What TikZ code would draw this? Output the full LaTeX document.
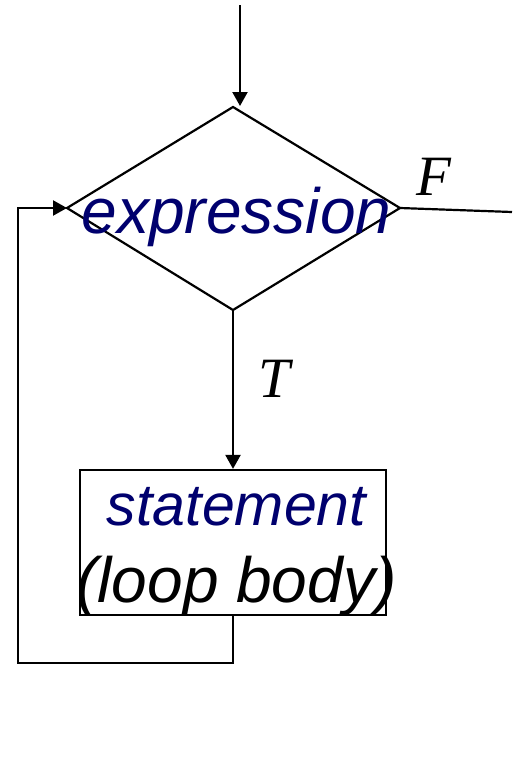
\documentclass[tikz,border=0pt]{standalone}
\usepackage{fontspec}
\setmainfont{Liberation Serif}
\newfontfamily\arialfont{Liberation Sans}
\usetikzlibrary{arrows.meta}
\definecolor{navyc}{RGB}{0,0,110}
\begin{document}
\begin{tikzpicture}[x=1pt,y=-1pt,
  line/.style={line width=2.2pt, line join=miter},
  arr/.style={line, -{Triangle[length=14pt,width=15pt]}},
  bigtxt/.style={anchor=base, inner sep=0pt, font=\arialfont\itshape\fontsize{64}{64}\selectfont},
  midtxt/.style={anchor=base, inner sep=0pt, font=\arialfont\itshape\fontsize{59}{59}\selectfont},
  lbl/.style={anchor=base, inner sep=0pt, font=\itshape\fontsize{57}{57}\selectfont}]
\useasboundingbox (0,0) rectangle (512,772);
% diamond
\coordinate (dT) at (233,107);
\coordinate (dL) at (67,208);
\coordinate (dR) at (400,208);
\coordinate (dB) at (233,310);
\draw[line] (dT) -- (dR) -- (dB) -- (dL) -- cycle;
% box
\node[draw, line width=2.2pt, minimum width=306pt, minimum height=145pt, inner sep=0pt] (box) at (233,542.5) {};
% texts
\node[bigtxt, text=navyc] (expr) at (236.5,233) {expression};
\node[midtxt, text=navyc] (stmt) at (236.5,525) {statement};
\node[bigtxt] (body) at (236.5,602) {(loop body)};
\node[lbl] (F) at (434,195) {F};
\node[lbl] (T) at (274,397) {T};
% connectors
\coordinate (start) at (240,5);
\coordinate (topin) at (240,106);
\draw[arr] (start) -- (topin);
\coordinate (exitR) at (512,212);
\draw[line] (dR) -- (exitR);
\draw[arr] (dB) -- (box.north);
\coordinate (lb) at (233,663);
\coordinate (ll) at (18,663);
\coordinate (lt) at (18,208);
\draw[arr] (box.south) -- (lb) -- (ll) -- (lt) -- (dL);
\end{tikzpicture}
\end{document}
